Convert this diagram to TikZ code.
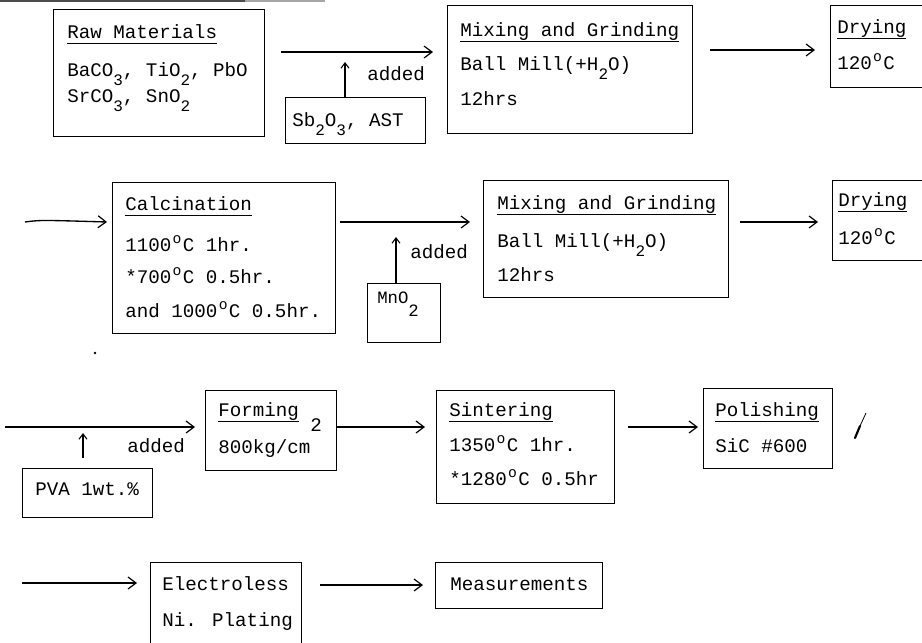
\documentclass[tikz,border=0pt]{standalone}
\usepackage{fontspec}
\setmainfont{Liberation Mono}
\usetikzlibrary{arrows.meta}
\newcommand\sbs[1]{\raisebox{-7pt}{\fontsize{12pt}{12pt}\selectfont #1}}
\newcommand\dgr{\makebox[8.6pt]{\raisebox{5.5pt}{\fontsize{11pt}{11pt}\selectfont o}}}
\newcommand\uln[1]{\setbox0\hbox{#1}\rlap{\rule[-4.5pt]{\wd0}{0.9pt}}\box0}
\begin{document}
\begin{tikzpicture}[x=0.75pt,y=-0.75pt,
  box/.style={draw, line width=1pt, inner sep=0pt, anchor=north west},
  wh/.style 2 args={minimum width=#1*0.75pt, minimum height=#2*0.75pt},
  txt/.style={anchor=base west, inner sep=0pt, font=\fontsize{14.4pt}{16pt}\selectfont},
  flow/.style={line width=1pt, -{Straight Barb[length=6pt,width=9pt,line width=0.9pt]}},
  upar/.style={line width=0.9pt, -{Straight Barb[length=4pt,width=6pt,line width=0.8pt]}}]
\useasboundingbox (0,0) rectangle (922,643);
\clip (0,0) rectangle (922,643);

% scan header line
\draw[line width=1pt, black!70] (0,1) -- (245,1);
\draw[line width=0.8pt, black!35] (245,1) -- (325,1);

% ---------- row 1 ----------
\node[box, wh={211}{127}] (raw) at (53,9) {};
\node[txt] (rawt) at (67,38) {\uln{Raw Materials}};
\node[txt] (rawa) at (67,76) {BaCO\sbs{3}, TiO\sbs{2}, PbO};
\node[txt] (rawb) at (67,102) {SrCO\sbs{3}, SnO\sbs{2}};

\node[box, wh={140}{46}] (sb) at (285,97) {};
\node[txt] (sbt) at (292,126) {Sb\sbs{2}O\sbs{3}, AST};
\node[txt] (add1) at (367,80) {added};

\node[box, wh={245}{128}] (mixa) at (447,5) {};
\node[txt] (mixat) at (460,36) {\uln{Mixing and Grinding}};
\node[txt] (mixab) at (460,70) {Ball Mill(+H\sbs{2}O)};
\node[txt] (mixac) at (460,105) {12hrs};

\node[box, wh={120}{82}] (drya) at (830,5) {};
\node[txt] (dryat) at (837,33) {\uln{Drying}};
\node[txt] (dryab) at (837,69) {120\dgr C};

\coordinate (a1s) at (281,52);
\coordinate (a1e) at (433,52);
\coordinate (u1s) at (345,97);
\coordinate (u1e) at (345,62);
\coordinate (a2s) at (710,50);
\coordinate (a2e) at (815,50);
\draw[flow] (a1s) -- (a1e);
\draw[upar] (u1s) -- (u1e);
\draw[flow] (a2s) -- (a2e);

% ---------- row 2 ----------
\node[box, wh={223}{151}] (calc) at (112,182) {};
\node[txt] (calct) at (125,210) {\uln{Calcination}};
\node[txt] (calca) at (125,251) {1100\dgr C 1hr.};
\node[txt] (calcb) at (125,283) {*700\dgr C 0.5hr.};
\node[txt] (calcc) at (125,317) {and 1000\dgr C 0.5hr.};

\node[box, wh={73}{59}] (mno) at (367,283) {};
\node[anchor=base west, inner sep=0pt, font=\fontsize{13pt}{14pt}\selectfont] (mnot) at (377,303) {MnO\raisebox{-10pt}{2}};
\node[txt] (add2) at (410,258) {added};

\node[box, wh={245}{117}] (mixb) at (483,180) {};
\node[txt] (mixbt) at (497,209) {\uln{Mixing and Grinding}};
\node[txt] (mixbb) at (497,247) {Ball Mill(+H\sbs{2}O)};
\node[txt] (mixbc) at (497,281) {12hrs};

\node[box, wh={120}{80}] (dryb) at (832,180) {};
\node[txt] (drybt) at (838,206) {\uln{Drying}};
\node[txt] (drybb) at (838,244) {120\dgr C};

\coordinate (a3s) at (25,222);
\coordinate (a3e) at (107,222);
\coordinate (a4s) at (340,222);
\coordinate (a4e) at (470,222);
\coordinate (u2s) at (396,283);
\coordinate (u2e) at (396,237);
\coordinate (a5s) at (740,222);
\coordinate (a5e) at (818,222);
\draw[flow] (a3s) .. controls (40,220) .. (a3e);
\draw[flow] (a4s) -- (a4e);
\draw[upar] (u2s) -- (u2e);
\draw[flow] (a5s) -- (a5e);
\fill (95,353) circle (1pt);

% ---------- row 3 ----------
\node[box, wh={130}{49}] (pva) at (22,468) {};
\node[txt] (pvat) at (35,495) {PVA 1wt.\%};
\node[txt] (add3) at (127,452) {added};

\node[box, wh={131}{80}] (form) at (205,390) {};
\node[txt] (formt) at (218,416) {\uln{Forming}};
\node[txt] (formb) at (218,453) {800kg/cm\raisebox{16pt}{2}};

\node[box, wh={178}{113}] (sint) at (436,390) {};
\node[txt] (sintt) at (449,416) {\uln{Sintering}};
\node[txt] (sinta) at (449,451) {1350\dgr C 1hr.};
\node[txt] (sintb) at (449,485) {*1280\dgr C 0.5hr};

\node[box, wh={129}{80}] (pol) at (703,388) {};
\node[txt] (polt) at (715,416) {\uln{Polishing}};
\node[txt] (polb) at (715,452) {SiC \#600};

\coordinate (a6s) at (5,427);
\coordinate (a6e) at (195,427);
\coordinate (u3s) at (83,458);
\coordinate (u3e) at (83,433);
\coordinate (a7s) at (337,427);
\coordinate (a7e) at (425,427);
\coordinate (a8s) at (628,427);
\coordinate (a8e) at (698,427);
\draw[flow] (a6s) -- (a6e);
\draw[upar] (u3s) -- (u3e);
\draw[flow] (a7s) -- (a7e);
\draw[flow] (a8s) -- (a8e);

% check stroke
\coordinate (cks) at (866,413);
\coordinate (cke) at (855,438);
\draw[line width=0.6pt] (cks) -- (860,426);
\draw[line width=1.6pt, line cap=round] (860,426) -- (cke);

% ---------- row 4 ----------
\node[box, wh={151}{100}] (elec) at (150,562) {};
\node[txt] (elect) at (162,590) {Electroless};
\node[txt] (elecb) at (162,626) {Ni. Plating};

\node[box, wh={167}{46}] (meas) at (435,562) {};
\node[txt] (meast) at (450,590) {Measurements};

\coordinate (a9s) at (22,583);
\coordinate (a9e) at (137,583);
\coordinate (a10s) at (320,585);
\coordinate (a10e) at (423,585);
\draw[flow] (a9s) -- (a9e);
\draw[flow] (a10s) -- (a10e);
\end{tikzpicture}
\end{document}
